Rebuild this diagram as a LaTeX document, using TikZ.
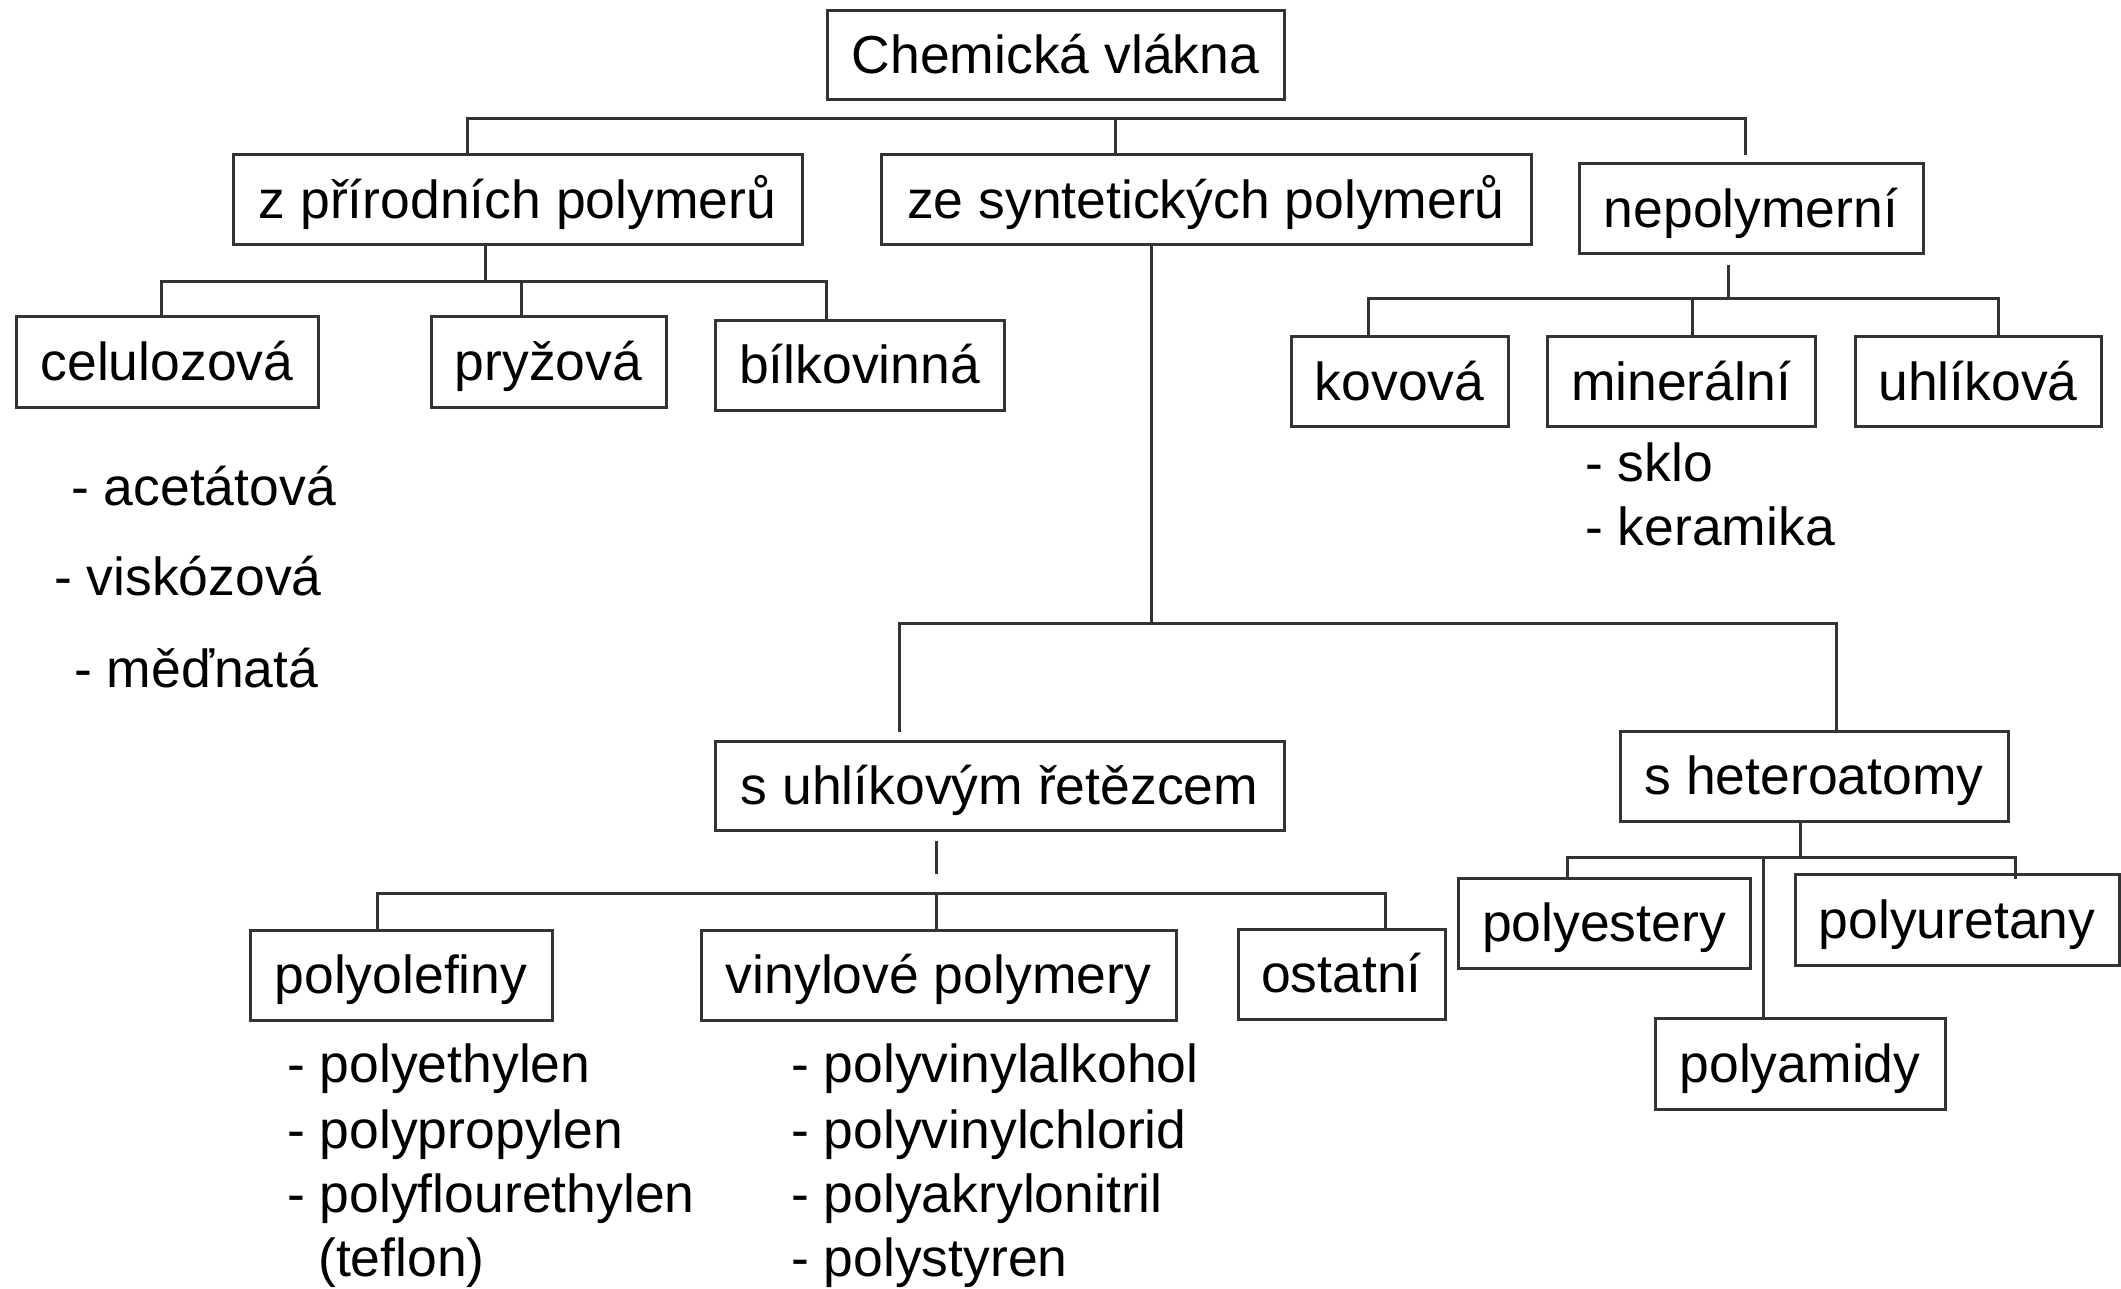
\documentclass[tikz,border=0pt]{standalone}
\usepackage{fontspec}
\setmainfont{Liberation Sans}
\newcommand{\fsz}{\fontsize{53.5}{64}\selectfont}
\begin{document}
\begin{tikzpicture}[x=1pt,y=-1pt,
  box/.style={draw=black!80, line width=3pt, inner sep=0pt, text height=37pt, text depth=0pt, font=\fsz},
  lbl/.style={anchor=base west, inner sep=0pt, font=\fsz},
  conn/.style={draw=black!80, line width=3pt}]
\useasboundingbox[fill=white] (0,0) rectangle (2121,1289);
% boxes
\node[box, minimum width=457pt, minimum height=89pt] (chem) at (1055.5,55.5) {Chemická vlákna};
\node[box, minimum width=569pt, minimum height=90pt] (prir) at (517.5,200) {z přírodních polymerů};
\node[box, minimum width=650pt, minimum height=90pt] (synt) at (1206,200) {ze syntetických polymerů};
\node[box, minimum width=344pt, minimum height=90pt] (nepol) at (1751,209) {nepolymerní};
\node[box, minimum width=302pt, minimum height=90pt] (cel) at (167,362) {celulozová};
\node[box, minimum width=235pt, minimum height=90pt] (pryz) at (548.5,362) {pryžová};
\node[box, minimum width=289pt, minimum height=89pt] (bilk) at (859.5,365.5) {bílkovinná};
\node[box, minimum width=217pt, minimum height=89pt] (kov) at (1399.5,381.5) {kovová};
\node[box, minimum width=268pt, minimum height=89pt] (min) at (1681,381.5) {minerální};
\node[box, minimum width=246pt, minimum height=89pt] (uhl) at (1978,381.5) {uhlíková};
\node[box, minimum width=569pt, minimum height=89pt] (uhlret) at (999.5,785.5) {s uhlíkovým řetězcem};
\node[box, minimum width=388pt, minimum height=90pt] (hetero) at (1814,776) {s heteroatomy};
\node[box, minimum width=302pt, minimum height=90pt] (polyol) at (401,975) {polyolefiny};
\node[box, minimum width=475pt, minimum height=90pt] (vinyl) at (938.5,975) {vinylové polymery};
\node[box, minimum width=207pt, minimum height=90pt] (ostat) at (1341.5,974) {ostatní};
\node[box, minimum width=292pt, minimum height=90pt] (polyest) at (1604,923) {polyestery};
\node[box, minimum width=324pt, minimum height=91pt] (polyur) at (1957,919.5) {polyuretany};
\node[box, minimum width=290pt, minimum height=91pt] (polyam) at (1800,1063.5) {polyamidy};
% lists
\node[lbl] (l1) at (71,505) {- acetátová};
\node[lbl] (l2) at (54,595) {- viskózová};
\node[lbl] (l3) at (74,687) {- měďnatá};
\node[lbl] (m1) at (1585,481) {- sklo};
\node[lbl] (m2) at (1585,545) {- keramika};
\node[lbl] (p1) at (287,1082) {- polyethylen};
\node[lbl] (p2) at (287,1148) {- polypropylen};
\node[lbl] (p3) at (287,1212) {- polyflourethylen};
\node[lbl] (p4) at (318,1276) {(teflon)};
\node[lbl] (v1) at (791,1082) {- polyvinylalkohol};
\node[lbl] (v2) at (791,1148) {- polyvinylchlorid};
\node[lbl] (v3) at (791,1212) {- polyakrylonitril};
\node[lbl] (v4) at (791,1276) {- polystyren};
% level 1
\coordinate (j1a) at (467,119);
\coordinate (j1b) at (1115,119);
\coordinate (j1c) at (1745,119);
\coordinate (s1c) at (1745,155);
\draw[conn] (prir.north -| j1a) -- (j1a) -- (j1c) -- (s1c);
\draw[conn] (j1b) -- (synt.north -| j1b);
% natural polymers
\coordinate (j2) at (485,282);
\coordinate (j2a) at (161,282);
\coordinate (j2b) at (521,282);
\coordinate (j2c) at (826,282);
\draw[conn] (prir.south -| j2) -- (j2);
\draw[conn] (cel.north -| j2a) -- (j2a) -- (j2c) -- (bilk.north -| j2c);
\draw[conn] (j2b) -- (pryz.north -| j2b);
% non-polymer
\coordinate (s3) at (1728,265);
\coordinate (j3) at (1728,299);
\coordinate (j3a) at (1368,299);
\coordinate (j3b) at (1692,299);
\coordinate (j3c) at (1998,299);
\draw[conn] (s3) -- (j3);
\draw[conn] (kov.north -| j3a) -- (j3a) -- (j3c) -- (uhl.north -| j3c);
\draw[conn] (j3b) -- (min.north -| j3b);
% synthetic
\coordinate (j4) at (1151,623);
\coordinate (j4a) at (899,623);
\coordinate (s4a) at (899,732);
\coordinate (j4b) at (1836,623);
\draw[conn] (synt.south -| j4) -- (j4);
\draw[conn] (s4a) -- (j4a) -- (j4b) -- (hetero.north -| j4b);
% carbon chain
\coordinate (s5t) at (936,841);
\coordinate (s5b) at (936,874);
\coordinate (j5a) at (377,893);
\coordinate (j5b) at (936,893);
\coordinate (j5c) at (1385,893);
\draw[conn] (s5t) -- (s5b);
\draw[conn] (polyol.north -| j5a) -- (j5a) -- (j5c) -- (ostat.north -| j5c);
\draw[conn] (j5b) -- (vinyl.north -| j5b);
% heteroatoms
\coordinate (j6) at (1800,857);
\coordinate (j6a) at (1567,857);
\coordinate (j6b) at (1763,857);
\coordinate (j6c) at (2015,857);
\coordinate (s6c) at (2015,879);
\draw[conn] (hetero.south -| j6) -- (j6);
\draw[conn] (polyest.north -| j6a) -- (j6a) -- (j6c) -- (s6c);
\draw[conn] (j6b) -- (polyam.north -| j6b);
\end{tikzpicture}
\end{document}
